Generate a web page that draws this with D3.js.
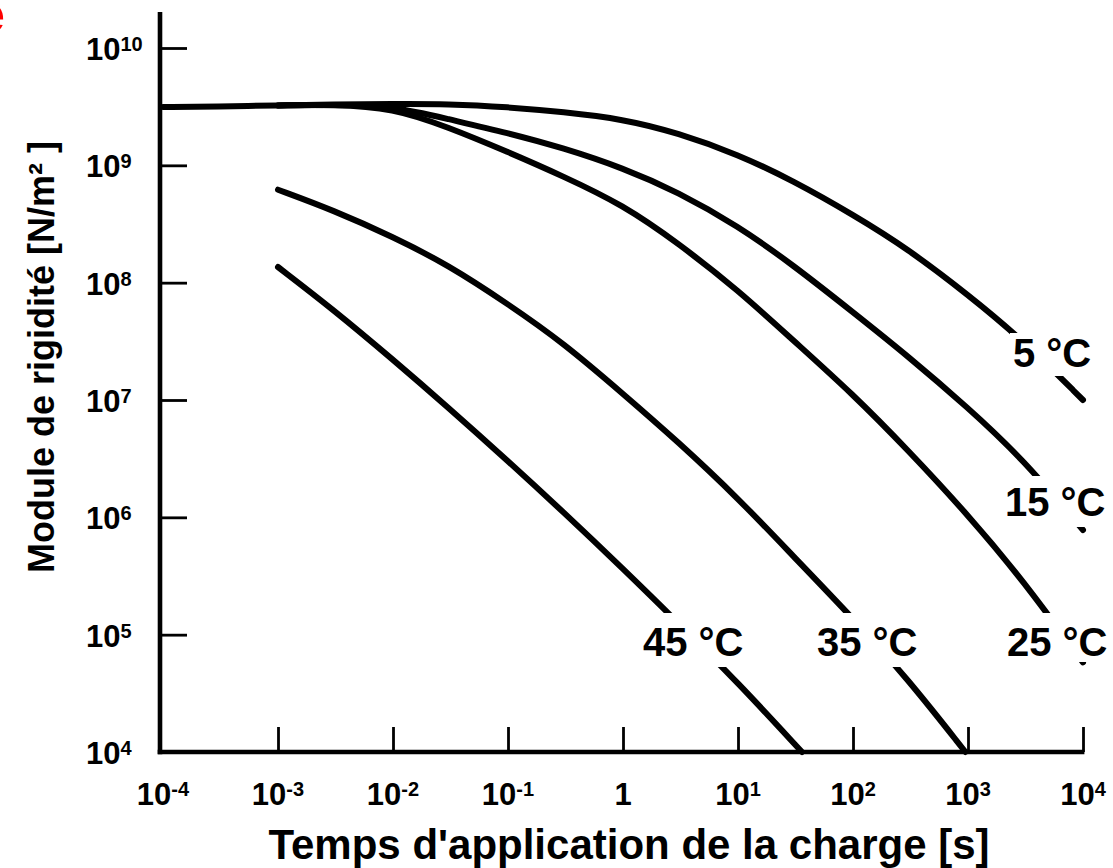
<!DOCTYPE html>
<html>
<head>
<meta charset="utf-8">
<script src="https://cdn.jsdelivr.net/npm/d3@7"></script>
<style>
  html, body { margin: 0; padding: 0; background: #fff; }
  svg { display: block; font-family: "Liberation Sans", Arial, Helvetica, sans-serif; }
</style>
</head>
<body>
<svg id="chart" width="1113" height="868"></svg>
<script>
// Loading time (s) and stiffness modulus (N/m²) along each isotherm
const times5   = [1e-4, 3e-4, 1e-3, 3e-3, 1e-2, 3e-2, 0.1, 0.3, 1, 3, 10, 30, 100, 300, 1000, 3000, 1e4];
const modulus5 = [3.14e9, 3.17e9, 3.24e9, 3.30e9, 3.34e9, 3.34e9, 3.14e9, 2.85e9, 2.48e9, 1.89e9, 1.24e9, 7.4e8, 3.8e8, 1.94e8, 7.9e7, 3.24e7, 1.0e7];

const times15   = [1e-3, 3e-3, 1e-2, 3e-2, 0.1, 0.3, 1, 3, 10, 30, 100, 300, 1000, 3000, 1e4];
const modulus15 = [3.24e9, 3.30e9, 3.2e9, 2.48e9, 1.89e9, 1.41e9, 9.5e8, 5.93e8, 3.04e8, 1.42e8, 5.6e7, 2.37e7, 8.6e6, 3.14e6, 7.8e5];

const times25   = [1e-3, 3e-3, 1e-2, 3e-2, 0.1, 0.3, 1, 3, 10, 30, 100, 300, 1000, 3000, 1e4];
const modulus25 = [3.24e9, 3.30e9, 3.08e9, 2.12e9, 1.30e9, 8.1e8, 4.6e8, 2.18e8, 8.66e7, 3.24e7, 1.12e7, 3.75e6, 1.05e6, 2.92e5, 5.8e4];

const times35   = [1e-3, 3e-3, 1e-2, 3e-2, 0.1, 0.3, 1, 3, 10, 30, 100, 300, 950];
const modulus35 = [6.2e8, 4.16e8, 2.46e8, 1.42e8, 6.58e7, 3.09e7, 1.13e7, 4.42e6, 1.46e6, 4.7e5, 1.38e5, 4.19e4, 1.0e4];

const times45   = [1e-3, 3e-3, 1e-2, 3e-2, 0.1, 0.3, 1, 3, 10, 36];
const modulus45 = [1.36e8, 5.94e7, 2.21e7, 8.69e6, 3.02e6, 1.12e6, 3.65e5, 1.27e5, 3.9e4, 1.0e4];

const curveLabels = ["5 °C", "15 °C", "25 °C", "35 °C", "45 °C"];

// Decade exponents used for the tick labels
const xExponents = [-4, -3, -2, -1, 0, 1, 2, 3, 4];
const yExponents = [4, 5, 6, 7, 8, 9, 10];

const xTitle = "Temps d'application de la charge [s]";
const yTitle = "Module de rigidité [N/m² ]";
const panelLetter = "e";

// ---- layout ----
const svg = d3.select("#chart");
const x = d3.scaleLog().domain([1e-4, 1e4]).range([163, 1083]);
const y = d3.scaleLog().domain([1e4, 1e10]).range([752, 48]);
const axisX = 160, axisY = 752, axisTop = 12;

// label anchor (left, baseline) and extent of the white patch above/below the baseline
const labelPlacement = [
  { x: 1013, y: 367, up: 34, down: 9 },
  { x: 1005, y: 516, up: 40, down: 11 },
  { x: 1007, y: 656, up: 43, down: 6 },
  { x: 817,  y: 656, up: 43, down: 11 },
  { x: 643,  y: 656, up: 43, down: 11 }
];

svg.append("rect").attr("width", 1113).attr("height", 868).attr("fill", "#fff");

// panel letter, partly outside the frame
svg.append("text")
  .attr("x", -24).attr("y", 32)
  .attr("font-size", 52).attr("font-weight", "bold")
  .attr("fill", "#ff0000")
  .text(panelLetter);

// ---- curves ----
const series = [
  d3.zip(times5, modulus5),
  d3.zip(times15, modulus15),
  d3.zip(times25, modulus25),
  d3.zip(times35, modulus35),
  d3.zip(times45, modulus45)
];

const line = d3.line()
  .x(d => x(d[0]))
  .y(d => y(d[1]))
  .curve(d3.curveBasis);

svg.append("g").selectAll("path")
  .data(series)
  .join("path")
  .attr("d", line)
  .attr("fill", "none")
  .attr("stroke", "#000")
  .attr("stroke-width", 6)
  .attr("stroke-linecap", "round")
  .attr("stroke-linejoin", "round");

// ---- curve labels on white patches ----
const lblG = svg.append("g");
curveLabels.forEach((txt, i) => {
  const p = labelPlacement[i];
  const g = lblG.append("g");
  const bg = g.append("rect").attr("fill", "#fff");
  const t = g.append("text")
    .attr("x", p.x).attr("y", p.y)
    .attr("font-size", 40)
    .attr("font-weight", "bold")
    .attr("fill", "#000")
    .text(txt);
  const bb = t.node().getBBox();
  bg.attr("x", bb.x - 3).attr("y", p.y - p.up)
    .attr("width", bb.width + 6).attr("height", p.up + p.down);
});

// ---- axes ----
const gx = svg.append("g")
  .attr("transform", `translate(0,${axisY})`)
  .call(d3.axisBottom(x)
    .tickValues(xExponents.slice(1).map(e => Math.pow(10, e)))
    .tickSize(-25)
    .tickFormat(""));
gx.select(".domain").remove();
gx.selectAll(".tick text").remove();
gx.selectAll(".tick line").attr("stroke", "#000").attr("stroke-width", 2.8);

const gy = svg.append("g")
  .attr("transform", `translate(${axisX},0)`)
  .call(d3.axisLeft(y)
    .tickValues(yExponents.slice(1).map(e => Math.pow(10, e)))
    .tickSize(-27)
    .tickFormat(""));
gy.select(".domain").remove();
gy.selectAll(".tick text").remove();
gy.selectAll(".tick line").attr("stroke", "#000").attr("stroke-width", 2.8);

svg.append("line")
  .attr("x1", axisX).attr("x2", axisX)
  .attr("y1", axisTop).attr("y2", axisY + 2.3)
  .attr("stroke", "#000").attr("stroke-width", 4.6);
svg.append("line")
  .attr("x1", axisX - 2.3).attr("x2", x(1e4) + 1.4)
  .attr("y1", axisY).attr("y2", axisY)
  .attr("stroke", "#000").attr("stroke-width", 4.6);

// power-of-ten tick labels
function powerLabel(sel, e) {
  if (e === 0) { sel.text("1"); return; }
  sel.append("tspan").text("10");
  sel.append("tspan").attr("font-size", 20).attr("dy", -9).text(e);
}

svg.append("g").selectAll("text")
  .data(xExponents)
  .join("text")
  .attr("x", e => x(Math.pow(10, e)))
  .attr("y", 805)
  .attr("text-anchor", "middle")
  .attr("font-size", 31)
  .attr("font-weight", "bold")
  .each(function (e) { powerLabel(d3.select(this), e); });

svg.append("g").selectAll("text")
  .data(yExponents)
  .join("text")
  .attr("x", 86)
  .attr("y", e => y(Math.pow(10, e)) + 12)
  .attr("font-size", 31)
  .attr("font-weight", "bold")
  .each(function (e) { powerLabel(d3.select(this), e); });

// ---- axis titles ----
svg.append("text")
  .attr("x", 629).attr("y", 859)
  .attr("text-anchor", "middle")
  .attr("font-size", 42)
  .attr("font-weight", "bold")
  .text(xTitle);

svg.append("text")
  .attr("transform", "translate(54,357) rotate(-90)")
  .attr("text-anchor", "middle")
  .attr("font-size", 36)
  .attr("font-weight", "bold")
  .text(yTitle);
</script>
</body>
</html>
